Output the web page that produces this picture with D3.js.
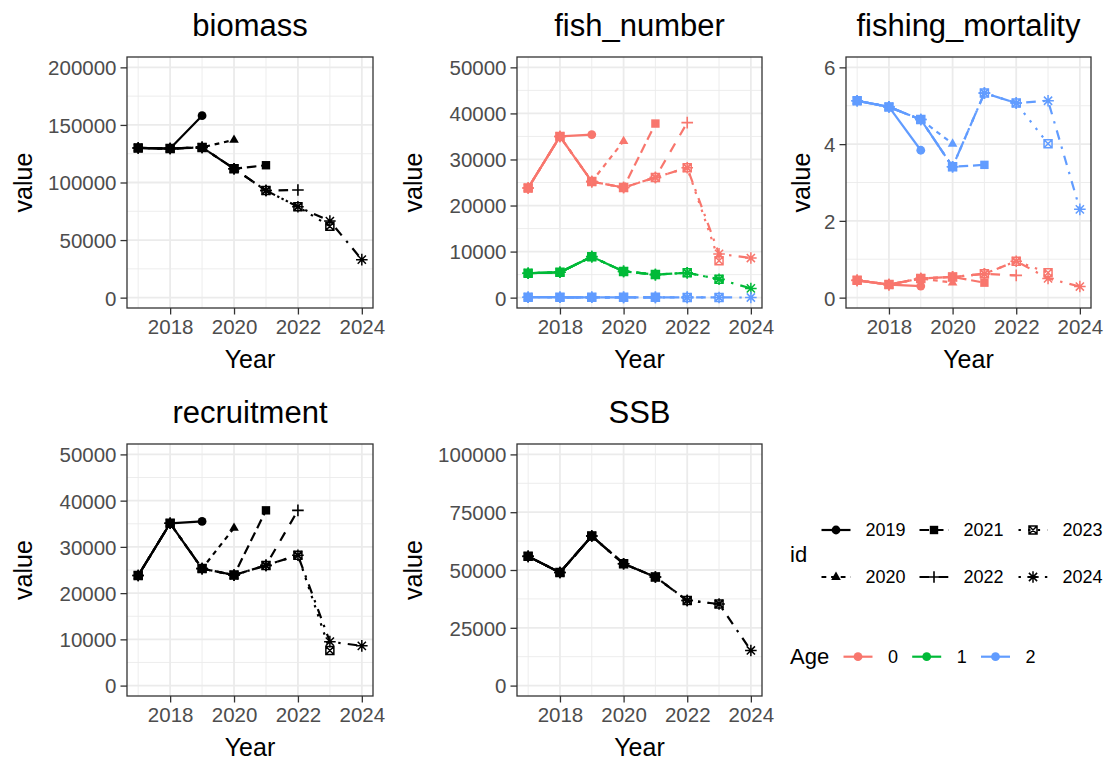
<!DOCTYPE html>
<html>
<head>
<meta charset="utf-8">
<script src="https://cdn.jsdelivr.net/npm/d3@7"></script>
<style>
  html, body { margin: 0; padding: 0; background: #fff; }
  svg { display: block; font-family: "Liberation Sans", Arial, Helvetica, sans-serif; }
</style>
</head>
<body>
<svg id="chart" width="1113" height="763"></svg>
<script>
// ---------------- DATA ----------------
const years = [2017, 2018, 2019, 2020, 2021, 2022, 2023, 2024];
const ids = [2019, 2020, 2021, 2022, 2023, 2024];
const ages = ["0", "1", "2"];
const xTicks = [2018, 2020, 2022, 2024];

// each inner array: values for years 2017..id
const biomassById = [
  [130000, 129500, 158000],
  [130000, 129500, 130500, 137000],
  [130000, 129500, 130500, 112000, 115000],
  [130000, 129500, 130500, 112000, 93000, 93500],
  [130000, 129500, 130500, 112000, 93000, 79000, 62000],
  [130000, 129500, 130500, 112000, 93000, 79000, 66500, 33000]
];
const fishNumberAge0ById = [
  [23800, 35000, 35400],
  [23800, 35000, 25200, 34000],
  [23800, 35000, 25200, 23900, 37800],
  [23800, 35000, 25200, 23900, 26100, 38000],
  [23800, 35000, 25200, 23900, 26100, 28200, 8000],
  [23800, 35000, 25200, 23900, 26100, 28200, 9500, 8600]
];
const fishNumberAge1ById = [
  [5300, 5500, 8900],
  [5300, 5500, 8900, 5700],
  [5300, 5500, 8900, 5700, 5000],
  [5300, 5500, 8900, 5700, 5000, 5400],
  [5300, 5500, 8900, 5700, 5000, 5400, 4000],
  [5300, 5500, 8900, 5700, 5000, 5400, 4000, 2000]
];
const fishNumberAge2ById = [
  [90, 80, 70],
  [90, 80, 70, 60],
  [90, 80, 70, 60, 60],
  [90, 80, 70, 60, 60, 50],
  [90, 80, 70, 60, 60, 50, 40],
  [90, 80, 70, 60, 60, 50, 40, 30]
];
const fMortAge0ById = [
  [0.45, 0.34, 0.30],
  [0.45, 0.34, 0.50, 0.39],
  [0.45, 0.34, 0.50, 0.54, 0.39],
  [0.45, 0.34, 0.50, 0.54, 0.62, 0.58],
  [0.45, 0.34, 0.50, 0.54, 0.62, 0.95, 0.65],
  [0.45, 0.34, 0.50, 0.54, 0.62, 0.95, 0.50, 0.29]
];
const fMortAge2ById = [
  [5.13, 4.97, 3.84],
  [5.13, 4.97, 4.64, 4.01],
  [5.13, 4.97, 4.64, 3.41, 3.46],
  [5.13, 4.97, 4.64, 3.41, 5.33, 5.07],
  [5.13, 4.97, 4.64, 3.41, 5.33, 5.07, 4.01],
  [5.13, 4.97, 4.64, 3.41, 5.33, 5.07, 5.13, 2.30]
];
const recruitmentById = [
  [23800, 35100, 35500],
  [23800, 35100, 25300, 34100],
  [23800, 35100, 25300, 23900, 37900],
  [23800, 35100, 25300, 23900, 26000, 37900],
  [23800, 35100, 25300, 23900, 26000, 28200, 7600],
  [23800, 35100, 25300, 23900, 26000, 28200, 9500, 8600]
];
const ssbById = [
  [55900, 48900, 64700],
  [55900, 48900, 64700, 52700],
  [55900, 48900, 64700, 52700, 47000],
  [55900, 48900, 64700, 52700, 47000, 36800],
  [55900, 48900, 64700, 52700, 47000, 36800, 35300],
  [55900, 48900, 64700, 52700, 47000, 36800, 35300, 15200]
];

const biomassTicks = [0, 50000, 100000, 150000, 200000];
const fishNumberTicks = [0, 10000, 20000, 30000, 40000, 50000];
const fMortTicks = [0, 2, 4, 6];
const recruitmentTicks = [0, 10000, 20000, 30000, 40000, 50000];
const ssbTicks = [0, 25000, 50000, 75000, 100000];

// ---------------- STYLES ----------------
const ageColors = { "0": "#F8766D", "1": "#00BA38", "2": "#619CFF" };
const idShapes = { 2019: "circle", 2020: "triangle", 2021: "square", 2022: "plus", 2023: "squareX", 2024: "asterisk" };
const U = 2.4;
const idDash = {
  2019: null,
  2020: [2 * U, 2 * U],
  2021: [4 * U, 2 * U],
  2022: [4 * U, 4 * U],
  2023: [1 * U, 3 * U],
  2024: [1 * U, 3 * U, 4 * U, 3 * U]
};
const LW = 2.2;
const FONT = '"Liberation Sans", Arial, Helvetica, sans-serif';

const svg = d3.select("#chart");

function drawShape(g, shape, cx, cy, color) {
  if (shape === "circle") {
    g.append("circle").attr("cx", cx).attr("cy", cy).attr("r", 4.4).attr("fill", color);
  } else if (shape === "triangle") {
    g.append("path").attr("d", `M${cx},${cy - 5.4}L${cx - 4.8},${cy + 2.9}L${cx + 4.8},${cy + 2.9}Z`).attr("fill", color);
  } else if (shape === "square") {
    g.append("rect").attr("x", cx - 4.2).attr("y", cy - 4.2).attr("width", 8.4).attr("height", 8.4).attr("fill", color);
  } else if (shape === "plus") {
    const s = 5.8;
    g.append("path").attr("d", `M${cx - s},${cy}H${cx + s}M${cx},${cy - s}V${cy + s}`)
      .attr("stroke", color).attr("stroke-width", 1.6).attr("fill", "none");
  } else if (shape === "squareX") {
    const s = 4.0;
    g.append("path").attr("d", `M${cx - s},${cy - s}H${cx + s}V${cy + s}H${cx - s}ZM${cx - s},${cy - s}L${cx + s},${cy + s}M${cx + s},${cy - s}L${cx - s},${cy + s}`)
      .attr("stroke", color).attr("stroke-width", 1.5).attr("fill", "none");
  } else if (shape === "asterisk") {
    const s = 5.8, d = 4.1;
    g.append("path").attr("d", `M${cx - s},${cy}H${cx + s}M${cx},${cy - s}V${cy + s}M${cx - d},${cy - d}L${cx + d},${cy + d}M${cx + d},${cy - d}L${cx - d},${cy + d}`)
      .attr("stroke", color).attr("stroke-width", 1.5).attr("fill", "none");
  }
}

let clipN = 0;
function drawPanel(cfg) {
  const { x0, y0, w, h, title, yTicks, series, valueX } = cfg;
  const yMax = yTicks[yTicks.length - 1];
  const e = 0.045 * yMax;
  const x = d3.scaleLinear().domain([2016.65, 2024.35]).range([x0, x0 + w]);
  const y = d3.scaleLinear().domain([-e, yMax + e]).range([y0 + h, y0]);
  const g = svg.append("g");

  // grid minor
  const step = yTicks[1] - yTicks[0];
  const yMinor = yTicks.slice(0, -1).map(t => t + step / 2);
  const xMinor = [2017, 2019, 2021, 2023];
  g.selectAll(".ymin").data(yMinor).join("line")
    .attr("x1", x0).attr("x2", x0 + w).attr("y1", d => y(d)).attr("y2", d => y(d))
    .attr("stroke", "#EBEBEB").attr("stroke-width", 0.9);
  g.selectAll(".xmin").data(xMinor).join("line")
    .attr("y1", y0).attr("y2", y0 + h).attr("x1", d => x(d)).attr("x2", d => x(d))
    .attr("stroke", "#EBEBEB").attr("stroke-width", 0.9);
  g.selectAll(".ymaj").data(yTicks).join("line")
    .attr("x1", x0).attr("x2", x0 + w).attr("y1", d => y(d)).attr("y2", d => y(d))
    .attr("stroke", "#EBEBEB").attr("stroke-width", 1.8);
  g.selectAll(".xmaj").data(xTicks).join("line")
    .attr("y1", y0).attr("y2", y0 + h).attr("x1", d => x(d)).attr("x2", d => x(d))
    .attr("stroke", "#EBEBEB").attr("stroke-width", 1.8);

  const cid = "clip" + (clipN++);
  svg.append("clipPath").attr("id", cid).append("rect")
    .attr("x", x0).attr("y", y0).attr("width", w).attr("height", h);
  const data = g.append("g").attr("clip-path", `url(#${cid})`);

  const line = d3.line().x(d => x(d[0])).y(d => y(d[1]));
  // lines
  series.forEach(s => {
    s.byId.forEach((vals, i) => {
      const id = ids[i];
      const pts = vals.map((v, k) => [years[k], v]);
      const p = data.append("path").attr("d", line(pts))
        .attr("fill", "none").attr("stroke", s.color).attr("stroke-width", LW)
        .attr("stroke-linejoin", "round").attr("stroke-linecap", "butt");
      if (idDash[id]) p.attr("stroke-dasharray", idDash[id].join(","));
    });
  });
  // points
  series.forEach(s => {
    s.byId.forEach((vals, i) => {
      const id = ids[i];
      vals.forEach((v, k) => drawShape(data, idShapes[id], x(years[k]), y(v), s.color));
    });
  });

  // border
  g.append("rect").attr("x", x0).attr("y", y0).attr("width", w).attr("height", h)
    .attr("fill", "none").attr("stroke", "#333333").attr("stroke-width", 1.3);

  // axes
  const ya = g.append("g").attr("transform", `translate(${x0},0)`)
    .call(d3.axisLeft(y).tickValues(yTicks).tickSize(6.5).tickPadding(4).tickFormat(d3.format("d")));
  const xa = g.append("g").attr("transform", `translate(0,${y0 + h})`)
    .call(d3.axisBottom(x).tickValues(xTicks).tickSize(6.5).tickPadding(5).tickFormat(d3.format("d")));
  [ya, xa].forEach(a => {
    a.select(".domain").remove();
    a.selectAll(".tick line").attr("stroke", "#333333").attr("stroke-width", 1.3);
    a.selectAll(".tick text").attr("fill", "#4D4D4D").style("font-size", "20.5px").style("font-family", FONT);
  });
  ya.selectAll(".tick text").attr("dy", "0.36em");
  xa.selectAll(".tick text").attr("dy", "0.72em");

  // titles
  g.append("text").attr("x", x0 + w / 2).attr("y", y0 - 21).attr("text-anchor", "middle")
    .style("font-size", "31px").style("font-family", FONT).attr("fill", "#000").text(title);
  g.append("text").attr("x", x0 + w / 2).attr("y", y0 + h + 60).attr("text-anchor", "middle")
    .style("font-size", "25px").style("font-family", FONT).attr("fill", "#000").text("Year");
  g.append("text").attr("transform", `translate(${valueX},${y0 + h / 2}) rotate(-90)`).attr("text-anchor", "middle")
    .style("font-size", "25px").style("font-family", FONT).attr("fill", "#000").text("value");
}

drawPanel({ x0: 127, y0: 57, w: 246, h: 251, title: "biomass", yTicks: biomassTicks, valueX: 31.5,
  series: [{ color: "#000000", byId: biomassById }] });
drawPanel({ x0: 517, y0: 57, w: 245, h: 251, title: "fish_number", yTicks: fishNumberTicks, valueX: 421.5,
  series: [
    { color: ageColors["0"], byId: fishNumberAge0ById },
    { color: ageColors["1"], byId: fishNumberAge1ById },
    { color: ageColors["2"], byId: fishNumberAge2ById }
  ] });
drawPanel({ x0: 846, y0: 57, w: 245, h: 251, title: "fishing_mortality", yTicks: fMortTicks, valueX: 810,
  series: [
    { color: ageColors["0"], byId: fMortAge0ById },
    { color: ageColors["2"], byId: fMortAge2ById }
  ] });
drawPanel({ x0: 127, y0: 444, w: 246, h: 252, title: "recruitment", yTicks: recruitmentTicks, valueX: 31.5,
  series: [{ color: "#000000", byId: recruitmentById }] });
drawPanel({ x0: 517, y0: 444, w: 245, h: 252, title: "SSB", yTicks: ssbTicks, valueX: 421.5,
  series: [{ color: "#000000", byId: ssbById }] });

// ---------------- LEGENDS ----------------
const leg = svg.append("g");
leg.append("text").attr("x", 790).attr("y", 561.5).style("font-size", "22px").style("font-family", FONT).text("id");
const colX = [836, 934, 1033];
const rowY = [530, 577];
ids.forEach((id, i) => {
  const cx = colX[Math.floor(i / 2)], cy = rowY[i % 2];
  const p = leg.append("line").attr("x1", cx - 14.5).attr("x2", cx + 14.5).attr("y1", cy).attr("y2", cy)
    .attr("stroke", "#000").attr("stroke-width", LW).attr("stroke-linecap", "butt");
  if (idDash[id]) p.attr("stroke-dasharray", idDash[id].join(","));
  drawShape(leg, idShapes[id], cx, cy, "#000");
  leg.append("text").attr("x", cx + 29.5).attr("y", cy + 6.3).style("font-size", "18px").style("font-family", FONT)
    .attr("fill", "#000").text(String(id));
});

leg.append("text").attr("x", 790).attr("y", 663.5).style("font-size", "22px").style("font-family", FONT).text("Age");
const ageKeyX = [858, 926.7, 995.5];
ages.forEach((a, i) => {
  const cx = ageKeyX[i], cy = 656.7;
  leg.append("line").attr("x1", cx - 14.5).attr("x2", cx + 14.5).attr("y1", cy).attr("y2", cy)
    .attr("stroke", ageColors[a]).attr("stroke-width", LW);
  drawShape(leg, "circle", cx, cy, ageColors[a]);
  leg.append("text").attr("x", cx + 30).attr("y", cy + 6.3).style("font-size", "18px").style("font-family", FONT)
    .attr("fill", "#000").text(a);
});
</script>
</body>
</html>
